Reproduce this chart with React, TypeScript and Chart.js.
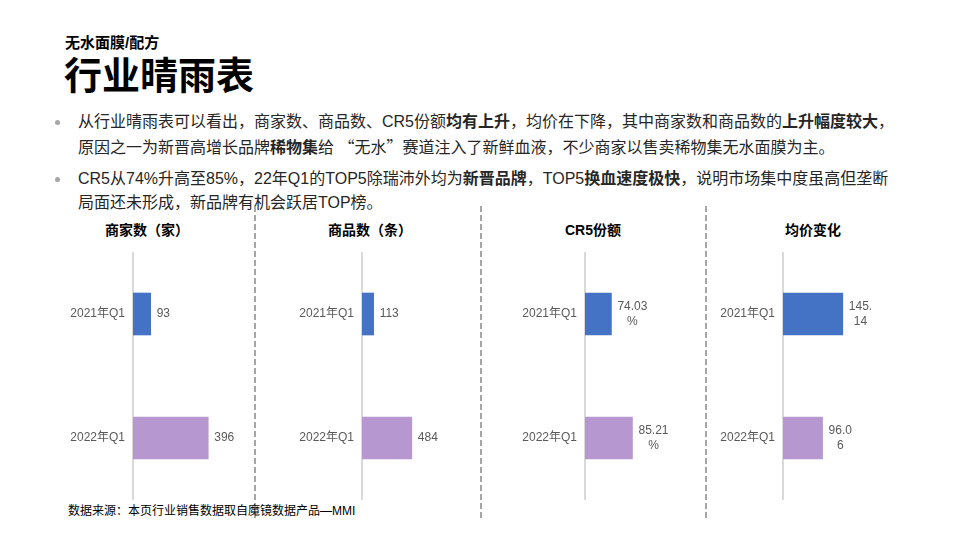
import React, { useEffect, useRef } from 'react';
import { Chart, registerables } from 'chart.js';

Chart.register(...registerables);

// ---------- data ----------
const categories = ['2021年Q1', '2022年Q1'];
const merchantCounts = [93, 396];
const productCounts = [113, 484];
const cr5Shares = [74.03, 85.21];
const avgPrices = [145.14, 96.06];
const chartTitles = ['商家数（家）', '商品数（条）', 'CR5份额', '均价变化'];
const axisMins = [0, 0, 60, 0];
const axisMaxs = [600, 1000, 120, 250];
const barColors = ['#4472C4', '#B797CF'];

const FONT = '"Liberation Sans", "Noto Sans CJK SC", sans-serif';
const CJK = '"Noto Sans CJK SC", sans-serif';

// ---------- layout (positions only) ----------
const panels = [
  { left: 40, axisX: 133, areaW: 114, titleX: 147 },
  { left: 262, axisX: 362, areaW: 103, titleX: 370 },
  { left: 488, axisX: 585, areaW: 113, titleX: 593 },
  { left: 712, axisX: 783, areaW: 103, titleX: 813 },
];
const CHART_TOP = 252;
const CHART_H = 248;
const RIGHT_PAD = 50;

const formats: ((v: number) => string[])[] = [
  (v) => [String(v)],
  (v) => [String(v)],
  (v) => [v.toFixed(2), '%'],
  (v) => {
    const s = v.toFixed(2);
    return [s.slice(0, 4), s.slice(4)];
  },
];

function BarPanel({ idx, values }: { idx: number; values: number[] }) {
  const ref = useRef<HTMLCanvasElement>(null);
  const p = panels[idx];
  const width = p.axisX - p.left + p.areaW + RIGHT_PAD;
  useEffect(() => {
    const format = formats[idx];
    const labelPlugin = {
      id: 'valueLabels' + idx,
      afterDatasetsDraw(chart: any) {
        const { ctx } = chart;
        const meta = chart.getDatasetMeta(0);
        const vals = chart.data.datasets[0].data as number[];
        ctx.save();
        ctx.font = `12px ${FONT}`;
        ctx.fillStyle = '#595959';
        ctx.textBaseline = 'middle';
        ctx.textAlign = 'center';
        meta.data.forEach((bar: any, i: number) => {
          const lines = format(vals[i]);
          const w = Math.max(...lines.map((l) => ctx.measureText(l).width));
          const cx = bar.x + 6 + w / 2;
          const lh = 15;
          lines.forEach((l, j) => {
            ctx.fillText(l, cx, bar.y + (j - (lines.length - 1) / 2) * lh);
          });
        });
        ctx.restore();
      },
    };
    const chart = new Chart(ref.current as HTMLCanvasElement, {
      type: 'bar',
      data: {
        labels: categories,
        datasets: [
          {
            data: values,
            backgroundColor: barColors,
            barThickness: 42,
          },
        ],
      },
      options: {
        indexAxis: 'y',
        responsive: false,
        animation: false,
        layout: { padding: { left: 0, right: RIGHT_PAD, top: 0, bottom: 0 } },
        plugins: {
          legend: { display: false },
          tooltip: { enabled: false },
          title: { display: false },
        },
        scales: {
          x: { display: false, min: axisMins[idx], max: axisMaxs[idx] },
          y: {
            z: 1,
            grid: { display: false, drawTicks: false },
            border: { display: true, color: '#D9D9D9', width: 2 },
            ticks: {
              color: '#595959',
              padding: 8,
              font: { family: FONT, size: 12 },
            },
            afterFit: (s: any) => {
              s.width = p.axisX - p.left;
              s.paddingTop = 0;
              s.paddingBottom = 0;
            },
          },
        },
      } as any,
      plugins: [labelPlugin],
    });
    return () => chart.destroy();
  }, []);
  return (
    <canvas
      ref={ref}
      width={width}
      height={CHART_H}
      style={{ position: 'absolute', left: p.left, top: CHART_TOP, width, height: CHART_H }}
    />
  );
}

const seriesList = [merchantCounts, productCounts, cr5Shares, avgPrices];
const dashXs = [255, 481, 706];

export default function App() {
  const bulletDot = (top: number) => (
    <div
      style={{
        position: 'absolute',
        left: 55,
        top,
        width: 5,
        height: 5,
        borderRadius: '50%',
        background: '#A6A6A6',
      }}
    />
  );
  const para: React.CSSProperties = {
    position: 'absolute',
    left: 78,
    fontSize: 16,
    lineHeight: '24px',
    color: '#262626',
    whiteSpace: 'nowrap',
  };
  return (
    <div
      style={{
        position: 'absolute',
        left: 0,
        top: 0,
        width: 960,
        height: 540,
        background: '#fff',
        overflow: 'hidden',
        fontFamily: FONT,
      }}
    >
      <div style={{ position: 'absolute', left: 65, top: 35, fontSize: 15, lineHeight: '16px', fontWeight: 700, color: '#000' }}>
        无水面膜/配方
      </div>
      <div style={{ position: 'absolute', left: 64, top: 55, fontSize: 38, lineHeight: '42px', fontWeight: 700, color: '#000' }}>
        行业晴雨表
      </div>

      {bulletDot(120)}
      <div style={{ ...para, top: 110 }}>
        从行业晴雨表可以看出，商家数、商品数、CR5份额<b>均有上升</b>，均价在下降，其中商家数和商品数的<b>上升幅度较大</b>，
        <br />
        原因之一为新晋高增长品牌<b>稀物集</b>给 <span style={{ fontFamily: CJK }}>“</span>无水<span style={{ fontFamily: CJK }}>”</span>赛道注入了新鲜血液，不少商家以售卖稀物集无水面膜为主。
      </div>
      {bulletDot(177)}
      <div style={{ ...para, top: 167 }}>
        CR5从74%升高至85%，22年Q1的TOP5除瑞沛外均为<b>新晋品牌</b>，TOP5<b>换血速度极快</b>，说明市场集中度虽高但垄断
        <br />
        局面还未形成，新品牌有机会跃居TOP榜。
      </div>

      {dashXs.map((x) => (
        <div
          key={x}
          style={{
            position: 'absolute',
            left: x - 1,
            top: 206,
            width: 2,
            height: 314,
            background: 'repeating-linear-gradient(to bottom, #A6A6A6 0px, #A6A6A6 6px, transparent 6px, transparent 9px)',
          }}
        />
      ))}

      {chartTitles.map((t, i) => (
        <div
          key={t}
          style={{
            position: 'absolute',
            left: panels[i].titleX,
            top: 221,
            transform: 'translateX(-50%)',
            fontSize: 14,
            lineHeight: '18px',
            fontWeight: 700,
            color: '#000',
            whiteSpace: 'nowrap',
          }}
        >
          {t}
        </div>
      ))}

      {seriesList.map((s, i) => (
        <BarPanel key={i} idx={i} values={s} />
      ))}

      <div style={{ position: 'absolute', left: 68, top: 504, fontSize: 12, lineHeight: '14px', color: '#000', whiteSpace: 'nowrap' }}>
        数据来源：本页行业销售数据取自魔镜数据产品—MMI
      </div>
    </div>
  );
}
